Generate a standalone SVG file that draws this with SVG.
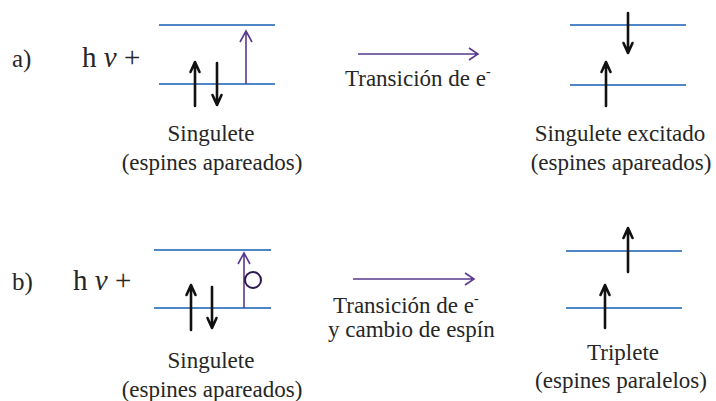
<svg xmlns="http://www.w3.org/2000/svg" width="716" height="401" viewBox="0 0 716 401">
<defs>
<style>
text{font-family:"Liberation Serif","Times New Roman",serif;fill:#262626;}
.lbl{font-size:23px;text-anchor:middle;}
.tr{font-size:23px;}
.big{font-size:29px;}
.lvl{stroke:#4f86c6;stroke-width:2;}
.spin{stroke:#111;stroke-width:2.6;fill:none;stroke-linecap:round;stroke-linejoin:round;}
.ph{stroke:#5a3a8e;stroke-width:1.6;fill:none;}
</style>
</defs>
<rect width="716" height="401" fill="#fff"/>
<g id="label-a"><text x="12" y="67" font-size="25">a)</text></g>
<g id="hv-a"><text class="big" x="82" y="67">h <tspan font-style="italic">ν</tspan> +</text></g>
<g id="singulete-a">
<line class="lvl" x1="159" y1="25" x2="275" y2="25"/>
<line class="lvl" x1="159" y1="84" x2="275" y2="84"/>
<path class="spin" d="M195 106V63M190.5 72L195 62L199.5 72"/>
<path class="spin" d="M217 63V105M212.5 95L217 105L221.5 95"/>
<path class="ph" d="M246 84V31M240 42L246 31L252 42"/>
<text class="lbl" x="211" y="141">Singulete</text>
<text class="lbl" x="212" y="170">(espines apareados)</text>
</g>
<g id="excitado-a">
<line class="lvl" x1="570" y1="25" x2="686" y2="25"/>
<line class="lvl" x1="570" y1="85" x2="686" y2="85"/>
<path class="spin" d="M628 13V53M623.5 43L628 53L632.5 43"/>
<path class="spin" d="M606 106V63M601.5 72L606 62L610.5 72"/>
<text class="lbl" x="620" y="141">Singulete excitado</text>
<text class="lbl" x="621" y="170">(espines apareados)</text>
</g>
<g id="label-b"><text x="12" y="290" font-size="25">b)</text></g>
<g id="hv-b"><text class="big" x="73" y="290">h <tspan font-style="italic">ν</tspan> +</text></g>
<g id="singulete-b">
<line class="lvl" x1="154" y1="250" x2="271" y2="250"/>
<line class="lvl" x1="154" y1="308" x2="271" y2="308"/>
<path class="spin" d="M191 330V286M186.5 295L191 285L195.5 295"/>
<path class="spin" d="M212 287V328M207.5 318L212 328L216.5 318"/>
<path class="ph" d="M244 308V253M238 264L244 253L250 264"/>
<circle cx="253" cy="280" r="8" fill="none" stroke="#2a1850" stroke-width="2"/>
<text class="lbl" x="211" y="368">Singulete</text>
<text class="lbl" x="212" y="397">(espines apareados)</text>
</g>
<g id="triplete-b">
<line class="lvl" x1="566" y1="251" x2="682" y2="251"/>
<line class="lvl" x1="566" y1="308" x2="682" y2="308"/>
<path class="spin" d="M628 272V229M623.5 238L628 228L632.5 238"/>
<path class="spin" d="M605 328V286M600.5 295L605 285L609.5 295"/>
<text class="lbl" x="623" y="360">Triplete</text>
<text class="lbl" x="621" y="388">(espines paralelos)</text>
</g>
<g id="connectors">
<path class="ph" d="M358 54H478M469 48L478 54L469 60"/>
<path class="ph" d="M353 279H474M465 273L474 279L465 285"/>
</g>
<g id="transicion-a"><text class="tr" x="345" y="86">Transición de e<tspan font-size="14" dy="-10">-</tspan></text></g>
<g id="transicion-b">
<text class="tr" x="333" y="313">Transición de e<tspan font-size="14" dy="-10">-</tspan></text>
<text class="tr" x="328" y="337">y cambio de espín</text>
</g>
</svg>
